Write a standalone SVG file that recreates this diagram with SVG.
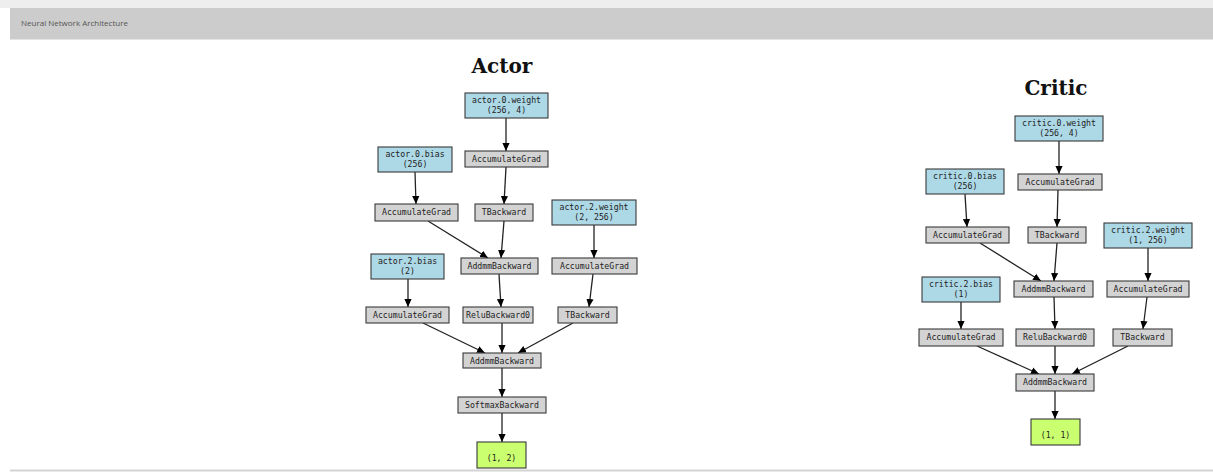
<svg xmlns="http://www.w3.org/2000/svg" width="1213" height="472" viewBox="0 0 1213 472">
  <style>
    .bar-text { font-family: "Open Sans", "Liberation Sans", sans-serif; font-size: 8px; fill: #555; }
    .title { font-family: "DejaVu Serif", "Liberation Serif", serif; font-weight: bold; font-size: 20px; fill: #111; text-anchor: middle; }
    .node rect { stroke: #3a3a3a; stroke-width: 1.1; }
    .node text { font-family: "DejaVu Sans Mono", "Liberation Mono", monospace; font-size: 8.2px; fill: #222; text-anchor: middle; }
    .param rect { fill: #add8e6; }
    .op rect { fill: #d3d3d3; }
    .out rect { fill: #caff70; }
    .edges line { stroke: #222; stroke-width: 1.3; marker-end: url(#arrow); }
  </style>
  <defs>
    <marker id="arrow" viewBox="0 0 10 10" refX="10" refY="5" markerWidth="8" markerHeight="8" markerUnits="userSpaceOnUse" orient="auto">
      <path d="M0,0.5 L10,5 L0,9.5 z" fill="#000"/>
    </marker>
  </defs>

  <!-- page background and header bar -->
  <rect x="0" y="0" width="1213" height="472" fill="#ffffff"/>
  <rect x="0" y="0" width="1213" height="8" fill="#eeeeee"/>
  <rect x="10" y="8" width="1203" height="31" fill="#cccccc"/>
  <rect x="10" y="39" width="1203" height="1" fill="#e4e4e4"/>
  <text class="bar-text" x="21" y="26">Neural Network Architecture</text>
  <rect x="10" y="469.5" width="1203" height="2" fill="#d4d4d4"/>

  <!-- ===== Actor ===== -->
  <text class="title" x="502" y="73">Actor</text>

  <g id="actor-edges" class="edges">
    <line x1="506" y1="118" x2="506" y2="151"/>
    <line x1="506" y1="167" x2="504" y2="204"/>
    <line x1="415" y1="172" x2="416" y2="204"/>
    <line x1="428" y1="221" x2="488" y2="258"/>
    <line x1="504" y1="221" x2="501" y2="258"/>
    <line x1="594" y1="225" x2="594" y2="258"/>
    <line x1="499" y1="274" x2="501" y2="307"/>
    <line x1="593" y1="274" x2="589" y2="307"/>
    <line x1="408" y1="279" x2="408" y2="307"/>
    <line x1="423" y1="323" x2="485" y2="353"/>
    <line x1="502" y1="323" x2="502" y2="353"/>
    <line x1="573" y1="323" x2="518" y2="353"/>
    <line x1="502" y1="368" x2="502" y2="397"/>
    <line x1="502" y1="413" x2="502" y2="442"/>
  </g>

  <g id="actor-0-weight" class="node param">
    <rect x="465" y="93" width="83" height="25"/>
    <text x="506.5" y="103">actor.0.weight</text>
    <text x="506.5" y="113">(256, 4)</text>
  </g>
  <g id="actor-accgrad-w0" class="node op">
    <rect x="465" y="151" width="83" height="16"/>
    <text x="506.5" y="162">AccumulateGrad</text>
  </g>
  <g id="actor-0-bias" class="node param">
    <rect x="378" y="147" width="74" height="25"/>
    <text x="415" y="157">actor.0.bias</text>
    <text x="415" y="167">(256)</text>
  </g>
  <g id="actor-accgrad-b0" class="node op">
    <rect x="375" y="204" width="83" height="17"/>
    <text x="416.5" y="215">AccumulateGrad</text>
  </g>
  <g id="actor-tbackward-0" class="node op">
    <rect x="475" y="204" width="58" height="17"/>
    <text x="504" y="215">TBackward</text>
  </g>
  <g id="actor-2-weight" class="node param">
    <rect x="552" y="200" width="84" height="25"/>
    <text x="594" y="210">actor.2.weight</text>
    <text x="594" y="220">(2, 256)</text>
  </g>
  <g id="actor-2-bias" class="node param">
    <rect x="371" y="254" width="73" height="25"/>
    <text x="407.5" y="264">actor.2.bias</text>
    <text x="407.5" y="274">(2)</text>
  </g>
  <g id="actor-addmm-0" class="node op">
    <rect x="461" y="258" width="77" height="16"/>
    <text x="499.5" y="269">AddmmBackward</text>
  </g>
  <g id="actor-accgrad-w2" class="node op">
    <rect x="552" y="258" width="85" height="16"/>
    <text x="594.5" y="269">AccumulateGrad</text>
  </g>
  <g id="actor-accgrad-b2" class="node op">
    <rect x="366" y="307" width="83" height="16"/>
    <text x="407.5" y="318">AccumulateGrad</text>
  </g>
  <g id="actor-relu" class="node op">
    <rect x="463" y="307" width="70" height="16"/>
    <text x="498" y="318">ReluBackward0</text>
  </g>
  <g id="actor-tbackward-2" class="node op">
    <rect x="558" y="307" width="59" height="16"/>
    <text x="587.5" y="318">TBackward</text>
  </g>
  <g id="actor-addmm-2" class="node op">
    <rect x="463" y="353" width="78" height="15"/>
    <text x="502" y="363.5">AddmmBackward</text>
  </g>
  <g id="actor-softmax" class="node op">
    <rect x="458" y="397" width="88" height="16"/>
    <text x="502" y="408">SoftmaxBackward</text>
  </g>
  <g id="actor-output" class="node out">
    <rect x="477" y="442" width="49" height="26"/>
    <text x="501.5" y="461">(1, 2)</text>
  </g>

  <!-- ===== Critic ===== -->
  <text class="title" x="1056" y="95">Critic</text>

  <g id="critic-edges" class="edges">
    <line x1="1059" y1="141" x2="1059" y2="174"/>
    <line x1="1058" y1="190" x2="1057" y2="227"/>
    <line x1="965" y1="194" x2="967" y2="227"/>
    <line x1="980" y1="243" x2="1041" y2="281"/>
    <line x1="1057" y1="243" x2="1054" y2="281"/>
    <line x1="1148" y1="248" x2="1148" y2="281"/>
    <line x1="1054" y1="297" x2="1055" y2="329"/>
    <line x1="1147" y1="297" x2="1143" y2="329"/>
    <line x1="961" y1="302" x2="961" y2="329"/>
    <line x1="977" y1="346" x2="1039" y2="374"/>
    <line x1="1055" y1="346" x2="1055" y2="374"/>
    <line x1="1128" y1="346" x2="1072" y2="374"/>
    <line x1="1055" y1="391" x2="1055" y2="419"/>
  </g>

  <g id="critic-0-weight" class="node param">
    <rect x="1015" y="116" width="88" height="25"/>
    <text x="1059" y="126">critic.0.weight</text>
    <text x="1059" y="136">(256, 4)</text>
  </g>
  <g id="critic-accgrad-w0" class="node op">
    <rect x="1018" y="174" width="84" height="16"/>
    <text x="1060" y="185">AccumulateGrad</text>
  </g>
  <g id="critic-0-bias" class="node param">
    <rect x="926" y="169" width="78" height="25"/>
    <text x="965" y="179">critic.0.bias</text>
    <text x="965" y="189">(256)</text>
  </g>
  <g id="critic-accgrad-b0" class="node op">
    <rect x="926" y="227" width="83" height="16"/>
    <text x="967.5" y="238">AccumulateGrad</text>
  </g>
  <g id="critic-tbackward-0" class="node op">
    <rect x="1028" y="227" width="58" height="16"/>
    <text x="1057" y="238">TBackward</text>
  </g>
  <g id="critic-2-weight" class="node param">
    <rect x="1104" y="223" width="88" height="25"/>
    <text x="1148" y="233">critic.2.weight</text>
    <text x="1148" y="243">(1, 256)</text>
  </g>
  <g id="critic-2-bias" class="node param">
    <rect x="922" y="277" width="78" height="25"/>
    <text x="961" y="287">critic.2.bias</text>
    <text x="961" y="297">(1)</text>
  </g>
  <g id="critic-addmm-0" class="node op">
    <rect x="1014" y="281" width="79" height="16"/>
    <text x="1053.5" y="292">AddmmBackward</text>
  </g>
  <g id="critic-accgrad-w2" class="node op">
    <rect x="1107" y="281" width="82" height="16"/>
    <text x="1148" y="292">AccumulateGrad</text>
  </g>
  <g id="critic-accgrad-b2" class="node op">
    <rect x="919" y="329" width="84" height="17"/>
    <text x="961" y="340">AccumulateGrad</text>
  </g>
  <g id="critic-relu" class="node op">
    <rect x="1016" y="329" width="78" height="17"/>
    <text x="1055" y="340">ReluBackward0</text>
  </g>
  <g id="critic-tbackward-2" class="node op">
    <rect x="1113" y="329" width="59" height="17"/>
    <text x="1142.5" y="340">TBackward</text>
  </g>
  <g id="critic-addmm-2" class="node op">
    <rect x="1016" y="374" width="78" height="17"/>
    <text x="1055" y="385">AddmmBackward</text>
  </g>
  <g id="critic-output" class="node out">
    <rect x="1031" y="419" width="49" height="26"/>
    <text x="1055.5" y="438">(1, 1)</text>
  </g>
</svg>
